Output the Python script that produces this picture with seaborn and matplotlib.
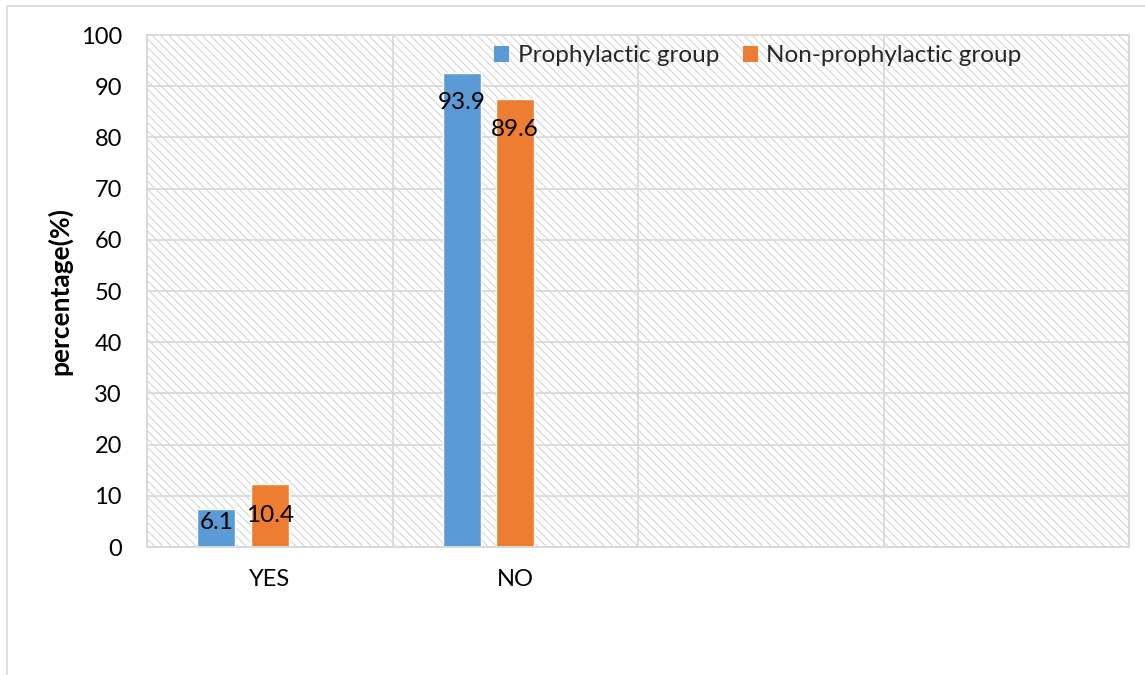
import matplotlib
matplotlib.use("Agg")
import matplotlib.pyplot as plt
import matplotlib.patches as mpatches
import seaborn as sns
import pandas as pd

# ---- data ----
categories = ["YES", "NO", " ", "  "]
groups = ["Prophylactic group", "Non-prophylactic group"]
prophylactic = [7.4, 92.6]          # bar heights as drawn
non_prophylactic = [12.4, 87.5]     # bar heights as drawn
prophylactic_labels = ["6.1", "93.9"]
non_prophylactic_labels = ["10.4", "89.6"]
yticks = [0, 10, 20, 30, 40, 50, 60, 70, 80, 90, 100]

colors = ["#5B9BD5", "#ED7D31", "#A5A5A5"]
grid_col = "#D9D9D9"

df = pd.DataFrame({
    "answer": categories[:2] * 2,
    "group": [groups[0]] * 2 + [groups[1]] * 2,
    "pct": prophylactic + non_prophylactic,
    "label": prophylactic_labels + non_prophylactic_labels,
})

sns.set_theme(style="white")
plt.rcParams["font.family"] = ["Lato", "DejaVu Sans"]
plt.rcParams["hatch.linewidth"] = 0.8

fig = plt.figure(figsize=(11.45, 6.75), dpi=100)
ax = fig.add_axes([147 / 1145, 1 - 547 / 675, (1129 - 147) / 1145, (547 - 35) / 675])

# hatched plot-area background
bg = mpatches.Rectangle((0, 0), 1, 1, transform=ax.transAxes, facecolor="white",
                        edgecolor="#D6D6D6", hatch="\\\\\\\\", linewidth=0, zorder=0.1)
ax.add_patch(bg)

sns.barplot(data=df, x="answer", y="pct", hue="group", order=categories,
            hue_order=groups + ["_empty"], palette=colors, width=0.652, gap=0.29,
            saturation=1, ax=ax, legend=False, zorder=2)

ax.set_xlim(-0.5, len(categories) - 0.5)
ax.set_ylim(0, 100)
ax.set_yticks(yticks)
ax.set_yticklabels([str(t) for t in yticks])
ax.set_xticks(range(len(categories)))
ax.set_xticklabels(categories)

# grid
ax.set_axisbelow(True)
ax.yaxis.grid(True, color=grid_col, linewidth=1.3, zorder=0.5)
for xb in [0.5, 1.5, 2.5]:
    ax.axvline(xb, color=grid_col, linewidth=1.3, zorder=0.5)
for s in ax.spines.values():
    s.set_visible(True)
    s.set_color(grid_col)
    s.set_linewidth(1.4)

ax.tick_params(axis="y", length=0, pad=18, labelsize=17, colors="black")
ax.tick_params(axis="x", length=0, pad=16, labelsize=17, colors="black")
ax.set_xlabel("")
ax.set_ylabel("percentage(%)", fontsize=19, fontweight="bold", color="black")
ax.yaxis.set_label_coords(-0.0764, 0.5)

# data labels (inside the bar tops)
label_offsets = [[-13, -30], [-32, -30]]  # pixels below bar top, per group / category
for gi, cont in enumerate(ax.containers[:2]):
    labs = df[df.group == groups[gi]]["label"].tolist()
    for bi, (bar, lab) in enumerate(zip(cont, labs)):
        cx = bar.get_x() + bar.get_width() / 2
        ax.annotate(lab, (cx, bar.get_height()), xytext=(0, label_offsets[gi][bi] * 0.72),
                    textcoords="offset points", ha="center", va="center",
                    fontsize=17.5, color="black", zorder=5)

# legend
handles = [mpatches.Patch(facecolor=colors[i], edgecolor="none", label=groups[i]) for i in range(2)]
fig.legend(handles=handles, loc="center", bbox_to_anchor=(758 / 1145, 1 - 56 / 675),
           ncol=2, frameon=False, fontsize=17.5, handlelength=0.6, handleheight=0.6,
           handletextpad=0.35, columnspacing=1.0, borderpad=0)

# outer chart border
fig.patches.append(mpatches.Rectangle((7 / 1145, -0.1), 1.2, (675 - 6) / 675 + 0.1,
                                      transform=fig.transFigure, fill=False,
                                      edgecolor=grid_col, linewidth=1.2))

fig.savefig("out.png", dpi=100)
